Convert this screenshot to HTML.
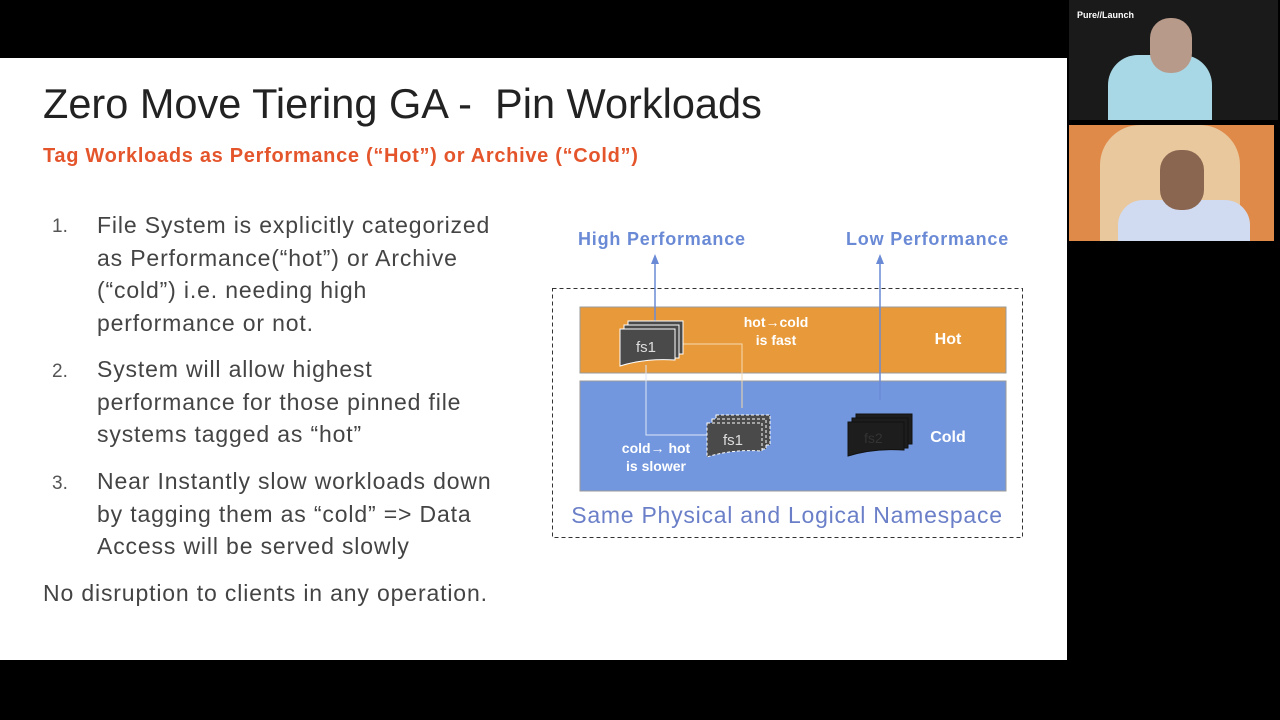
<!DOCTYPE html>
<html><head><style>
body{margin:0;width:1280px;height:720px;background:#000;position:relative;overflow:hidden;font-family:"Liberation Sans",sans-serif}
.a{position:absolute}
.slide{left:0;top:58px;width:1067px;height:602px;background:#fff}
.li{color:#444;font-size:23px;line-height:32.5px;letter-spacing:0.85px}
.n{color:#555;font-size:19px}
</style></head><body>
<div class="a slide"></div>
<div class="a" style="left:43px;top:80px;font-size:41.5px;color:#222;white-space:nowrap">Zero Move Tiering GA -&nbsp; Pin Workloads</div>
<div class="a" style="left:43px;top:145px;font-size:20px;letter-spacing:0.7px;font-weight:bold;color:#e4552c;white-space:nowrap">Tag Workloads as Performance (“Hot”) or Archive (“Cold”)</div>
<div class="a n" style="left:52px;top:216px">1.</div>
<div class="a li" style="left:97px;top:209px;width:405px">File System is explicitly categorized as Performance(“hot”) or Archive (“cold”) i.e. needing high performance or not.</div>
<div class="a n" style="left:52px;top:361px">2.</div>
<div class="a li" style="left:97px;top:353px;width:390px">System will allow highest performance for those pinned file systems tagged as “hot”</div>
<div class="a n" style="left:52px;top:473px">3.</div>
<div class="a li" style="left:97px;top:465px;width:415px">Near Instantly slow workloads down by tagging them as “cold” =&gt; Data Access will be served slowly</div>
<div class="a li" style="left:43px;top:577px;white-space:nowrap">No disruption to clients in any operation.</div>

<svg class="a" style="left:0;top:0" width="1067" height="660" font-family="Liberation Sans,sans-serif">
<text x="578" y="245" font-size="18" letter-spacing="0.8" font-weight="bold" fill="#6a8ad6">High Performance</text>
<text x="846" y="245" font-size="18" letter-spacing="0.8" font-weight="bold" fill="#6a8ad6">Low Performance</text>
<rect x="552.5" y="288.5" width="470" height="249" fill="none" stroke="#333" stroke-dasharray="4,3"/>
<rect x="580" y="307" width="426" height="66" fill="#e89a3a" stroke="#999"/>
<rect x="580" y="381" width="426" height="110" fill="#7397de" stroke="#999"/>
<line x1="655" y1="322" x2="655" y2="260" stroke="#6a8ad6" stroke-width="1.5"/>
<polygon points="651,264 659,264 655,254" fill="#6a8ad6"/>
<line x1="880" y1="400" x2="880" y2="260" stroke="#6a8ad6" stroke-width="1.5"/>
<polygon points="876,264 884,264 880,254" fill="#6a8ad6"/>
<polyline points="683,344 742,344 742,408" fill="none" stroke="#f3d9b0" stroke-width="1"/>
<polyline points="646,365 646,435 710,435" fill="none" stroke="#dde6f8" stroke-width="1"/>
<g fill="#4a4a4a" stroke="#fff">
<rect x="628" y="321" width="55" height="33"/><rect x="624" y="325" width="55" height="33"/>
<path d="M620 329 h55 v31 q-30 -2 -55 6z"/>
</g>
<text x="636" y="352" font-size="15" fill="#ddd">fs1</text>
<g fill="#4a4a4a" stroke="#fff" stroke-dasharray="3,2">
<rect x="716" y="415" width="54" height="30"/><rect x="712" y="419" width="54" height="30"/>
<path d="M707 423 h55 v28 q-30 -2 -55 6z"/>
</g>
<text x="723" y="445" font-size="15" fill="#ddd">fs1</text>
<g fill="#1d1d1d" stroke="#111">
<rect x="856" y="414" width="56" height="30"/><rect x="852" y="418" width="56" height="30"/>
<path d="M848 422 h56 v28 q-30 -2 -56 6z"/>
</g>
<text x="864" y="443" font-size="14" fill="#333">fs2</text>
<text x="776" y="327" font-size="14" font-weight="bold" fill="#fff" text-anchor="middle">hot→cold</text>
<text x="776" y="345" font-size="14" font-weight="bold" fill="#fff" text-anchor="middle">is fast</text>
<text x="948" y="344" font-size="16" font-weight="bold" fill="#fff" text-anchor="middle">Hot</text>
<text x="656" y="453" font-size="14" font-weight="bold" fill="#fff" text-anchor="middle">cold→ hot</text>
<text x="656" y="471" font-size="14" font-weight="bold" fill="#fff" text-anchor="middle">is slower</text>
<text x="948" y="442" font-size="16" font-weight="bold" fill="#fff" text-anchor="middle">Cold</text>
<text x="787" y="523" font-size="23" letter-spacing="0.75" fill="#6a7fc8" text-anchor="middle">Same Physical and Logical Namespace</text>
</svg>

<div class="a" style="left:1069px;top:0;width:209px;height:120px;background:#1a1a1a"></div>
<div class="a" style="left:1077px;top:10px;color:#fff;font-size:9px;font-weight:bold">Pure//Launch</div>
<div class="a" style="left:1108px;top:55px;width:104px;height:65px;background:#a8d8e6;border-radius:30px 30px 0 0"></div>
<div class="a" style="left:1150px;top:18px;width:42px;height:55px;background:#b89a8a;border-radius:20px"></div>
<div class="a" style="left:1069px;top:125px;width:205px;height:116px;background:#e08a4a"></div>
<div class="a" style="left:1100px;top:125px;width:140px;height:116px;background:#e8c89c;border-radius:40px 40px 0 0"></div>
<div class="a" style="left:1118px;top:200px;width:132px;height:41px;background:#d0daf0;border-radius:25px 25px 0 0"></div>
<div class="a" style="left:1160px;top:150px;width:44px;height:60px;background:#8a6550;border-radius:20px"></div>
</body></html>
